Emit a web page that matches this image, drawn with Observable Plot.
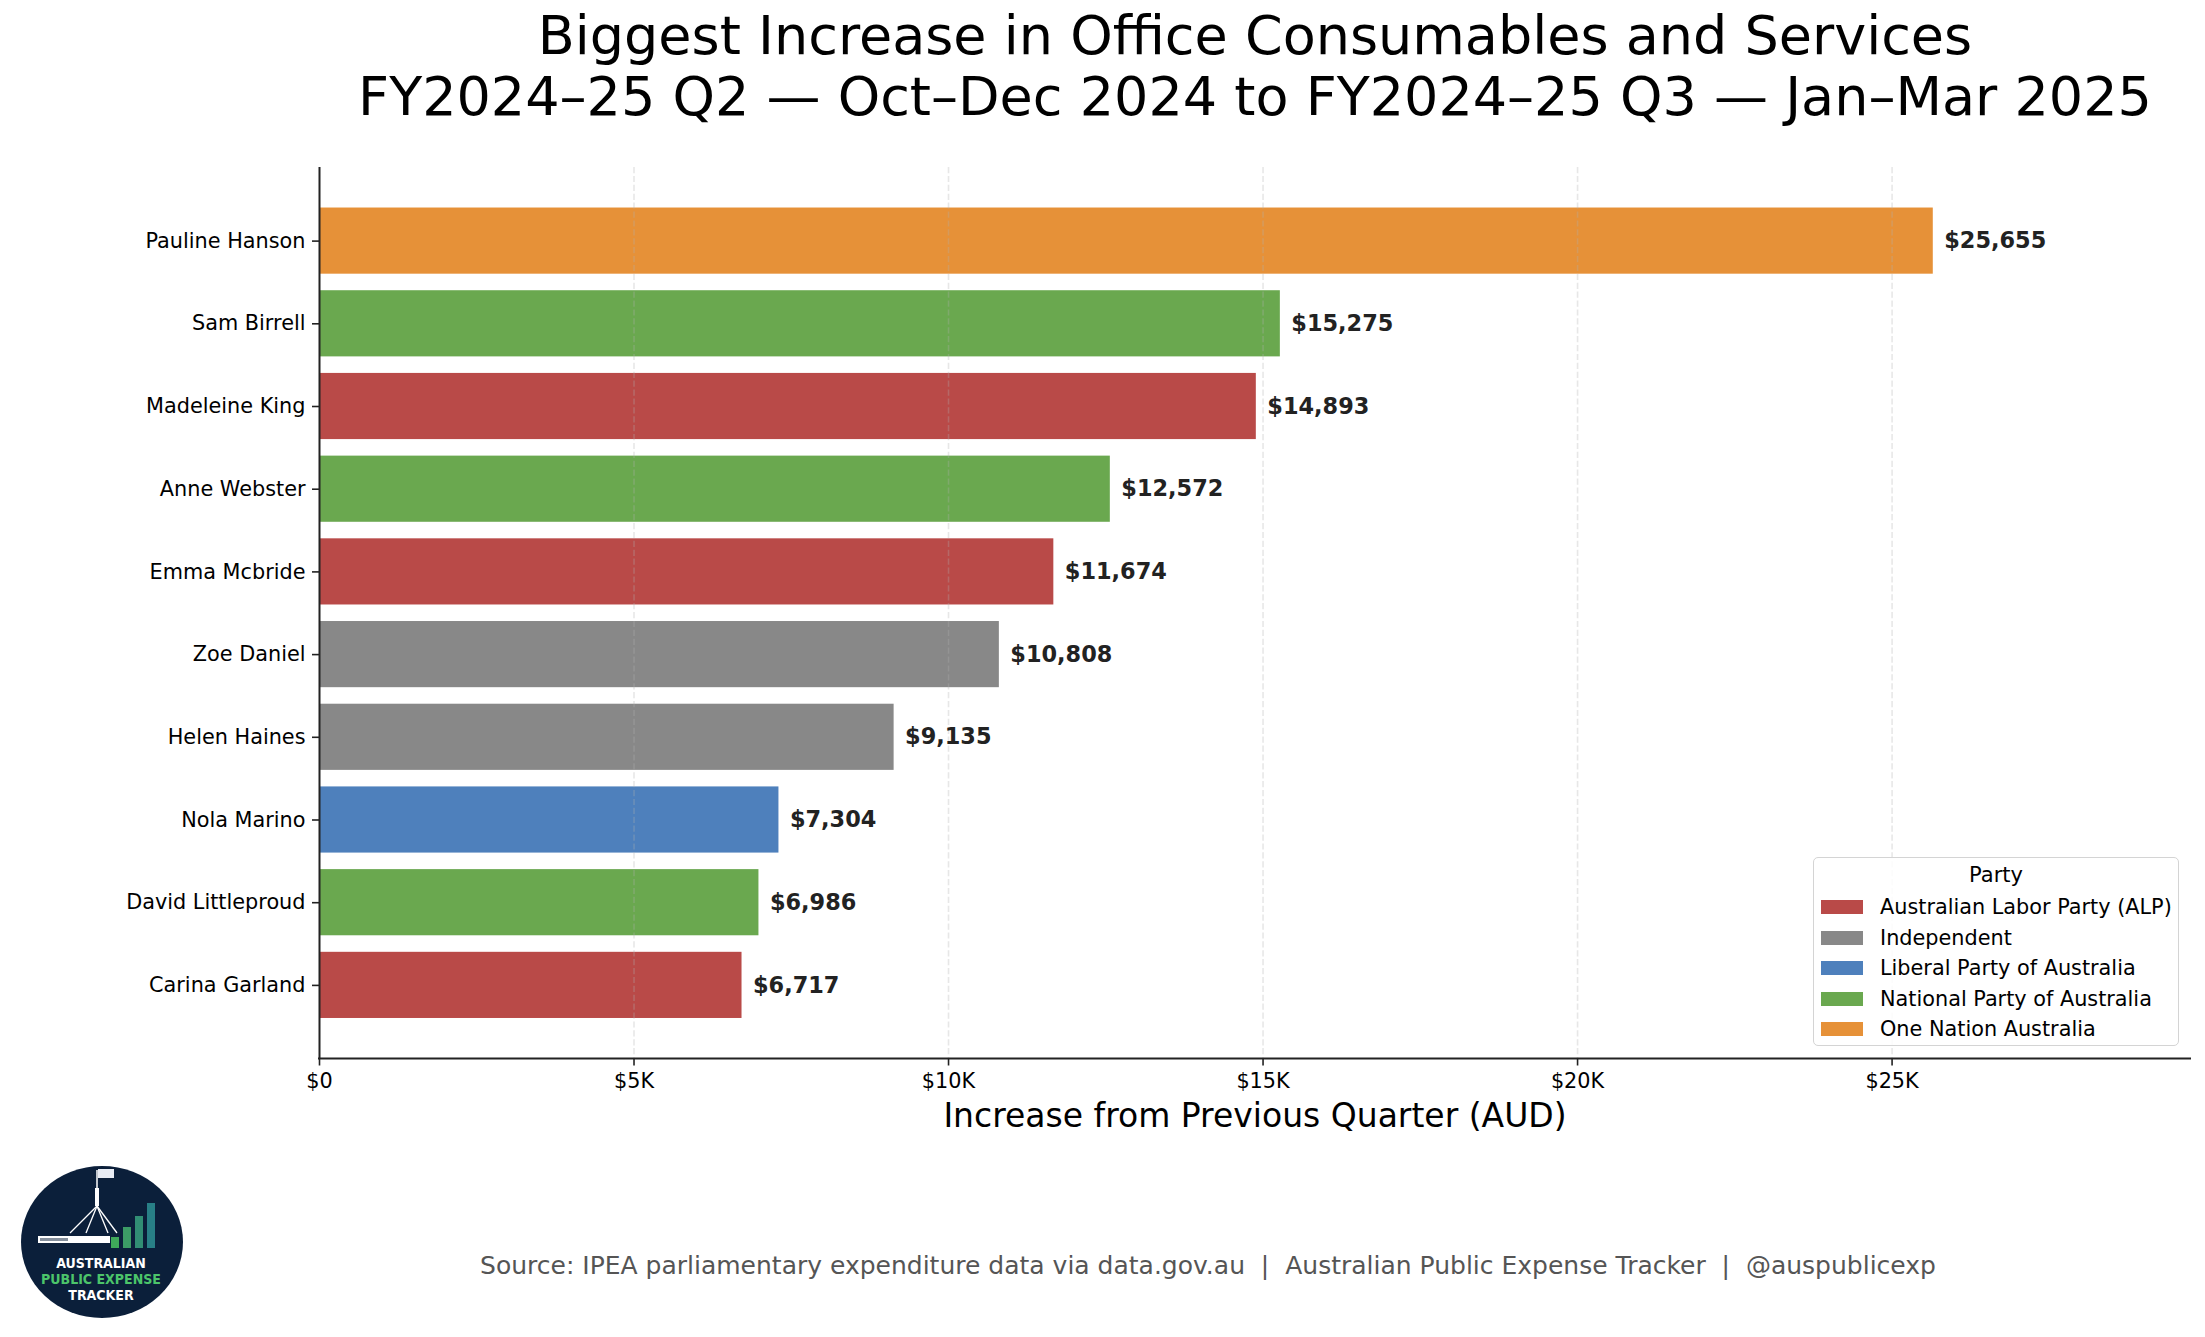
<!DOCTYPE html>
<html>
<head>
<meta charset="utf-8">
<script src="https://cdn.jsdelivr.net/npm/d3@7"></script>
<script src="https://cdn.jsdelivr.net/npm/@observablehq/plot@0.6"></script>
<style>
  html, body { margin: 0; padding: 0; background: #fff; }
  #root { position: relative; width: 2205px; height: 1337px; overflow: hidden; font-family: "DejaVu Sans", sans-serif; color: #000; }
  .abs { position: absolute; white-space: nowrap; }
  #title { left: 1255px; top: 6px; transform: translateX(-50%); font-size: 54px; line-height: 60.5px; text-align: center; }
  #xlabel { left: 1255px; top: 1096px; transform: translateX(-50%); font-size: 33px; line-height: 40px; }
  #caption { left: 1208px; top: 1251px; transform: translateX(-50%); font-size: 25px; line-height: 30px; color: #555; }
  #legend { left: 1813px; top: 857px; width: 364px; height: 187px; border: 1.5px solid #d4d4d4; border-radius: 5px; background: rgba(255,255,255,0.85); }
  #legend .lt { position: absolute; left: 0; width: 100%; top: 3px; text-align: center; font-size: 21px; line-height: 28px; }
  #legend .sw { position: absolute; left: 7px; width: 42px; height: 14px; }
  #legend .lab { position: absolute; left: 66px; font-size: 20.8px; line-height: 24px; white-space: nowrap; }
  #plot { left: 0; top: 0; }
  #logo { left: 0; top: 1140px; }
</style>
</head>
<body>
<div id="root">
  <div id="plot" class="abs"></div>
  <div id="title" class="abs"></div>
  <div id="xlabel" class="abs"></div>
  <div id="caption" class="abs"></div>
  <div id="legend" class="abs"></div>
  <svg id="logo" class="abs" width="200" height="197" viewBox="0 0 200 197"></svg>
</div>
<script>
// ---- data ----
const names = ["Pauline Hanson", "Sam Birrell", "Madeleine King", "Anne Webster", "Emma Mcbride",
               "Zoe Daniel", "Helen Haines", "Nola Marino", "David Littleproud", "Carina Garland"];
const values = [25655, 15275, 14893, 12572, 11674, 10808, 9135, 7304, 6986, 6717];
const parties = ["One Nation Australia", "National Party of Australia", "Australian Labor Party (ALP)",
                 "National Party of Australia", "Australian Labor Party (ALP)", "Independent", "Independent",
                 "Liberal Party of Australia", "National Party of Australia", "Australian Labor Party (ALP)"];
const partyNames = ["Australian Labor Party (ALP)", "Independent", "Liberal Party of Australia",
                    "National Party of Australia", "One Nation Australia"];
const partyColors = ["#B94A48", "#888888", "#4E80BC", "#6AA84F", "#E69138"];
const xTicks = [0, 5000, 10000, 15000, 20000, 25000];
const xTickLabels = ["$0", "$5K", "$10K", "$15K", "$20K", "$25K"];
const xMax = 29760;
const titleLines = ["Biggest Increase in Office Consumables and Services",
                    "FY2024–25 Q2 — Oct–Dec 2024 to FY2024–25 Q3 — Jan–Mar 2025"];
const xLabel = "Increase from Previous Quarter (AUD)";
const legendTitle = "Party";
const captionText = "Source: IPEA parliamentary expenditure data via data.gov.au  |  Australian Public Expense Tracker  |  @auspublicexp";

// ---- build ----
const rows = names.map((n, i) => ({name: n, value: values[i], party: parties[i]}));
const fmt = d3.format("$,");
const W = 2205, H = 1140, mT = 167, mB = 81.5, mL = 319, mR = 14;

const chart = Plot.plot({
  width: W, height: H,
  marginTop: mT, marginBottom: mB, marginLeft: mL, marginRight: mR,
  style: {fontFamily: '"DejaVu Sans", sans-serif', fontSize: "20.8px", color: "#000", background: "transparent", overflow: "visible"},
  x: {domain: [0, xMax], label: null},
  y: {domain: names, paddingInner: 0.2, paddingOuter: 0.49, align: 0.5, round: false, label: null},
  color: {domain: partyNames, range: partyColors},
  marks: [
    Plot.barX(rows, {x: "value", y: "name", fill: "party"}),
    Plot.gridX(xTicks.slice(1), {stroke: "#b0b0b0", strokeOpacity: 0.3, strokeDasharray: "6.2,2.7", strokeWidth: 1.6}),
    Plot.text(rows, {x: "value", y: "name", text: d => fmt(d.value), dx: 11, textAnchor: "start",
                     fontWeight: "bold", fontSize: 22.4, fill: "#222"}),
    Plot.ruleX([0], {stroke: "#222", strokeWidth: 2}),
    Plot.axisX(xTicks, {tickFormat: d => xTickLabels[xTicks.indexOf(d)], tickSize: 7, tickPadding: 7,
                        fontSize: 20.8, label: null, stroke: "#222", strokeWidth: 1.6}),
    Plot.axisY({tickSize: 7, tickPadding: 7, fontSize: 20.8, label: null, stroke: "#222", strokeWidth: 1.6})
  ]
});
document.getElementById("plot").appendChild(chart);

// bottom spine using the plot's own x scale range
const xr = chart.scale("x").range;
d3.select(chart).append("line")
  .attr("x1", xr[0] - 1).attr("x2", xr[1])
  .attr("y1", H - mB).attr("y2", H - mB)
  .attr("stroke", "#222").attr("stroke-width", 2);

// title, labels, caption
d3.select("#title").selectAll("div").data(titleLines).join("div").text(d => d);
d3.select("#xlabel").text(xLabel);
d3.select("#caption").text(captionText).style("white-space", "pre");

// legend
const lg = d3.select("#legend");
lg.append("div").attr("class", "lt").text(legendTitle);
partyNames.forEach((p, i) => {
  lg.append("div").attr("class", "sw").style("top", (42 + i * 30.6) + "px").style("background", partyColors[i]);
  lg.append("div").attr("class", "lab").style("top", (37 + i * 30.6) + "px").text(p);
});

// logo
const lo = d3.select("#logo");
lo.append("ellipse").attr("cx", 102).attr("cy", 102).attr("rx", 81).attr("ry", 76).attr("fill", "#0B1F3A");
lo.append("line").attr("x1", 97).attr("x2", 97).attr("y1", 30).attr("y2", 66).attr("stroke", "#fff").attr("stroke-width", 1.5);
lo.append("rect").attr("x", 98).attr("y", 29).attr("width", 16).attr("height", 9).attr("fill", "#e8ecf4");
lo.append("rect").attr("x", 95).attr("y", 48).attr("width", 4).attr("height", 18).attr("fill", "#fff");
[[70, 93], [86, 93], [108, 93], [117, 93]].forEach(([x, y]) =>
  lo.append("line").attr("x1", 97).attr("y1", 66).attr("x2", x).attr("y2", y).attr("stroke", "#fff").attr("stroke-width", 1.3));
lo.append("rect").attr("x", 38).attr("y", 96).attr("width", 72).attr("height", 7).attr("fill", "#fff");
lo.append("rect").attr("x", 40).attr("y", 98).attr("width", 28).attr("height", 3).attr("fill", "#0B1F3A").attr("opacity", 0.5);
[[111, 97, "#3FA85A"], [123, 87, "#3C9C66"], [135, 76, "#318E74"], [147, 63, "#287F86"]].forEach(([x, y, c]) =>
  lo.append("rect").attr("x", x).attr("y", y).attr("width", 8).attr("height", 108 - y).attr("fill", c));
[["AUSTRALIAN", 128, "#fff"], ["PUBLIC EXPENSE", 144, "#4CC46A"], ["TRACKER", 160, "#fff"]].forEach(([t, y, c]) =>
  lo.append("text").attr("x", 101).attr("y", y).attr("text-anchor", "middle").attr("fill", c)
    .attr("font-family", "DejaVu Sans Condensed, DejaVu Sans, sans-serif").attr("font-stretch", "condensed")
    .attr("font-weight", "bold").attr("font-size", 14).text(t));
</script>
</body>
</html>
